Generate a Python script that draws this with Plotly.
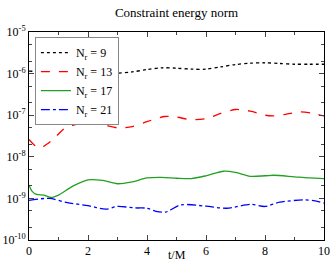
import plotly.graph_objects as go

t9 = [0, 0.5, 1, 1.5, 2, 2.5, 3, 3.5, 4, 4.5, 5, 5.5, 6, 6.5, 7, 7.5, 8, 8.5, 9, 9.5, 10]
n9 = [1.15e-6, 1.1e-6, 1.05e-6, 1.02e-6, 1.0e-6, 1.0e-6, 1.02e-6, 1.1e-6, 1.25e-6, 1.38e-6, 1.35e-6,
      1.28e-6, 1.28e-6, 1.45e-6, 1.65e-6, 1.78e-6, 1.82e-6, 1.75e-6, 1.68e-6, 1.68e-6, 1.68e-6]

t13 = [0, 0.15, 0.35, 0.6, 0.9, 1.2, 1.5, 2, 2.5, 3, 3.5, 4, 4.6, 5.0, 5.5, 6, 6.5, 7, 7.5, 8, 8.3, 8.7, 9.2, 9.6, 10]
n13 = [2.6e-8, 2.0e-8, 1.6e-8, 2.0e-8, 3.0e-8, 4.8e-8, 5.8e-8, 6.3e-8, 5.9e-8, 5.0e-8, 5.3e-8, 7.0e-8, 9.3e-8,
       9.0e-8, 7.8e-8, 8.3e-8, 1.1e-7, 1.37e-7, 1.25e-7, 1.0e-7, 9.6e-8, 1.05e-7, 1.2e-7, 1.12e-7, 9.6e-8]

t17 = [0, 0.1, 0.25, 0.5, 0.75, 1.0, 1.5, 2.0, 2.5, 3.0, 3.5, 4.0, 4.5, 5, 5.5, 6, 6.6, 7, 7.5, 8, 8.3, 9, 9.5, 10]
n17 = [2.1e-9, 1.5e-9, 1.25e-9, 1.2e-9, 1.05e-9, 1.2e-9, 2.0e-9, 2.8e-9, 2.7e-9, 2.25e-9, 2.5e-9, 3.1e-9,
       3.2e-9, 3.05e-9, 3.0e-9, 3.5e-9, 4.5e-9, 4.2e-9, 3.4e-9, 3.5e-9, 3.6e-9, 3.3e-9, 3.1e-9, 3.0e-9]

t21 = [0, 0.7, 1.3, 2, 2.6, 3, 3.6, 4.0, 4.3, 4.64, 5.15, 6, 6.7, 7.5, 8, 8.5, 9.3, 9.7, 10]
n21 = [0.9e-9, 1.0e-9, 0.79e-9, 0.67e-9, 0.55e-9, 0.64e-9, 0.59e-9, 0.58e-9, 0.49e-9, 0.47e-9, 0.7e-9,
       0.65e-9, 0.58e-9, 0.72e-9, 0.64e-9, 0.81e-9, 0.92e-9, 0.87e-9, 0.77e-9]

ytickvals = [1e-10, 1e-9, 1e-8, 1e-7, 1e-6, 1e-5]
yticktext = ["10<sup>-10</sup>", "10<sup>-9</sup>", "10<sup>-8</sup>", "10<sup>-7</sup>",
             "10<sup>-6</sup>", "10<sup>-5</sup>"]
xtickvals = [0, 2, 4, 6, 8, 10]

series = [
    ("N<sub>r</sub> = 9", t9, n9, "black", "dot"),
    ("N<sub>r</sub> = 13", t13, n13, "#ff0000", "dash"),
    ("N<sub>r</sub> = 17", t17, n17, "#22a022", "solid"),
    ("N<sub>r</sub> = 21", t21, n21, "#0000ff", "dashdot"),
]

fig = go.Figure()
for name, x, y, c, d in series:
    fig.add_trace(go.Scatter(x=x, y=y, name=name, mode="lines",
                             line=dict(color=c, dash=d, width=1.3, shape="spline", smoothing=0.8)))

font = "Liberation Serif, Times New Roman, serif"
fig.update_layout(
    width=332, height=266,
    margin=dict(l=29, r=8, t=32, b=26),
    paper_bgcolor="white", plot_bgcolor="white",
    font=dict(family=font, size=12, color="black"),
    title=dict(text="Constraint energy norm", x=0.5, xanchor="center", xref="paper",
               y=0.955, yanchor="middle", yref="container", automargin=False,
               font=dict(family=font, size=13)),
    legend=dict(x=0.02, y=0.975, xanchor="left", yanchor="top",
                bordercolor="#888888", borderwidth=1, bgcolor="white",
                font=dict(family=font, size=12), tracegroupgap=0, itemwidth=30),
    showlegend=True,
    annotations=[dict(text="t/M", x=0.5, y=-0.072, xref="paper", yref="paper",
                      xanchor="center", yanchor="middle", showarrow=False,
                      font=dict(family=font, size=12))],
)
fig.update_xaxes(range=[0, 10], tickvals=xtickvals, ticks="inside", ticklen=5, tickwidth=1,
                 showline=True, linecolor="black", linewidth=1, mirror="allticks", showgrid=False,
                 zeroline=False, automargin=False,
                 minor=dict(ticks="inside", ticklen=3, dtick=1, showgrid=False),
                 tickfont=dict(size=12))
fig.update_yaxes(type="log", range=[-10, -5], tickvals=ytickvals, ticktext=yticktext,
                 ticks="inside", ticklen=5, tickwidth=1, automargin=False,
                 showline=True, linecolor="black", linewidth=1, mirror="allticks", showgrid=False,
                 zeroline=False, minor=dict(ticks="inside", ticklen=3, showgrid=False),
                 tickfont=dict(size=12))
fig.write_html("out.html", config={"displayModeBar": False},
               post_script="document.body.style.margin='0';document.body.style.overflow='hidden';")
